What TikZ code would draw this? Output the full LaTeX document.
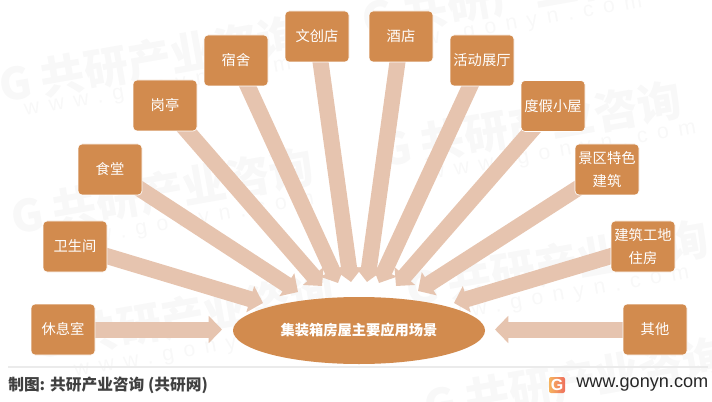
\documentclass[tikz,border=0pt]{standalone}
\usepackage{fontspec}
\setmainfont{Noto Sans CJK SC}
\newfontfamily\latinfont{Liberation Sans}
\usetikzlibrary{shapes.geometric,arrows.meta}
\definecolor{boxfill}{HTML}{D28B4E}
\definecolor{flowcol}{HTML}{E6C4AF}
\definecolor{wmark}{HTML}{F8F8F8}
\definecolor{foot}{HTML}{404040}
\definecolor{logol}{HTML}{F6B45F}
\definecolor{logor}{HTML}{EE6F5E}
\pgfdeclarelayer{bg}
\pgfsetlayers{bg,main}
\tikzset{
  place/.style={draw=white,line width=0.5pt,fill=boxfill,rounded corners=3pt,minimum width=48pt,minimum height=38.25pt,inner sep=0pt,text=white,align=center,font=\fontsize{10.7}{16.9}\selectfont},
  hub/.style={ellipse,fill=boxfill,minimum width=189pt,minimum height=50.25pt,inner sep=0pt,text=white,font=\fontsize{10.7}{13}\selectfont\bfseries},
  flow/.style={draw=flowcol,line width=12pt,-{Triangle[length=10pt,width=20pt,fill=flowcol]}},
  wmcn/.style={text=wmark,rotate=10,inner sep=0pt,font=\fontsize{33}{33}\selectfont\bfseries},
  wmen/.style={text=wmark,rotate=10,inner sep=0pt,font=\latinfont\fontsize{16}{16}\selectfont\addfontfeatures{LetterSpace=45}},
}
\begin{document}
\begin{tikzpicture}[x=0.75pt,y=-0.75pt]
\useasboundingbox (0,0) rectangle (712,402);
% nodes
\node[hub] (hubn) at (359,330.5) {集装箱房屋主要应用场景};
\node[place] (a1) at (63,329.5) {休息室};
\node[place] (a2) at (75,246.5) {卫生间};
\node[place] (a3) at (110,169.5) {食堂};
\node[place] (a4) at (165,105.5) {岗亭};
\node[place] (a5) at (236,60.5) {宿舍};
\node[place] (a6) at (317,36.5) {文创店};
\node[place] (a7) at (401,36.5) {酒店};
\node[place] (a8) at (482,60.5) {活动展厅};
\node[place] (a9) at (553,106) {度假小屋};
\node[place] (a10) at (607,169.5) {景区特色\\建筑};
\node[place] (a11) at (643,246.5) {建筑工地\\住房};
\node[place] (a12) at (655,329.5) {其他};
% arrow ends
\coordinate (t1) at (222,329.5);
\coordinate (t2) at (263,303);
\coordinate (t3) at (298,292);
\coordinate (t4) at (322,286);
\coordinate (t5) at (338,283);
\coordinate (t6) at (351,282);
\coordinate (t7) at (367,282);
\coordinate (t8) at (379,283);
\coordinate (t9) at (396,286);
\coordinate (t10) at (418,291);
\coordinate (t11) at (454,303);
\coordinate (t12) at (495,329.5);
\begin{pgfonlayer}{bg}
  % watermark
  \node[wmcn] (w1) at (150,60) {G 共研产业咨询};
  \node[wmen] (w1b) at (158,89) {www.gonyn.com};
  \node[wmcn] (w2) at (530,125) {G 共研产业咨询};
  \node[wmen] (w2b) at (563,153) {www.gonyn.com};
  \node[wmcn] (w3) at (162,192) {G 共研产业咨询};
  \node[wmen] (w3b) at (181,224) {www.gonyn.com};
  \node[wmcn] (w4) at (183,317) {G 共研产业咨询};
  \node[wmen] (w4b) at (208,350) {www.gonyn.com};
  \node[wmcn] (w5) at (557,264) {G 共研产业咨询};
  \node[wmen] (w5b) at (556,298) {www.gonyn.com};
  \node[wmcn] (w6) at (575,381) {G 共研产业咨询};
  \node[wmcn] (w7) at (513,-6) {G 共研产业咨询};
  \node[wmen] (w7b) at (509,27) {www.gonyn.com};
  % connectors
  \foreach \n in {1,...,12} {\draw[flow] (a\n.center) -- (t\n);}
\end{pgfonlayer}
% footer
\coordinate (fl) at (8,367);
\coordinate (fr) at (708,367);
\draw[draw=black!8,line width=0.8pt] (fl) -- (fr);
\node[anchor=west,inner sep=0pt,text=foot,font=\fontsize{11.8}{14}\selectfont\bfseries] (credit) at (8,385) {制图: 共研产业咨询 (共研网)};
\node[left color=logol,right color=logor,rounded corners=1.5pt,minimum width=12pt,minimum height=12pt,inner sep=0pt,text=white,font=\latinfont\bfseries\fontsize{12}{12}\selectfont] (logo) at (557,385) {G};
\node[anchor=west,inner sep=0pt,text=black!85,font=\latinfont\fontsize{13.6}{15}\selectfont] (site) at (576,384.5) {www.gonyn.com};
\end{tikzpicture}
\end{document}
